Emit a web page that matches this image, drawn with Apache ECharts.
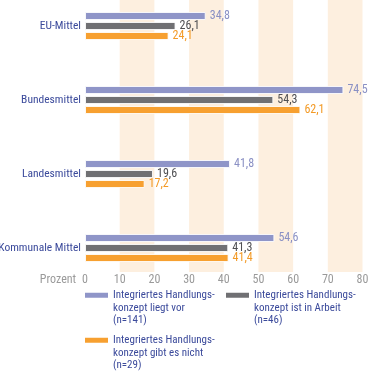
<!DOCTYPE html>
<html><head><meta charset="utf-8">
<script src="https://cdn.jsdelivr.net/npm/echarts@6/dist/echarts.min.js"></script>
<style>html,body{margin:0;padding:0;background:#fff}#c{width:370px;height:372px}</style>
</head><body><div id="c"></div>
<script>
const categories = ['EU-Mittel', 'Bundesmittel', 'Landesmittel', 'Kommunale Mittel'];
const seriesNames = ['Integriertes Handlungs-\nkonzept liegt vor\n(n=141)', 'Integriertes Handlungs-\nkonzept ist in Arbeit\n(n=46)', 'Integriertes Handlungs-\nkonzept gibt es nicht\n(n=29)'];
const liegtVor = [34.8, 74.5, 41.8, 54.6];
const inArbeit = [26.1, 54.3, 19.6, 41.3];
const gibtNicht = [24.1, 62.1, 17.2, 41.4];
const xTicks = [0, 10, 20, 30, 40, 50, 60, 70, 80];

const FONT = '"Liberation Sans Narrow", "Roboto Condensed", "Noto Sans Condensed", "Open Sans Condensed", "Arial Narrow", "Liberation Sans", sans-serif';
const colors = ['#8f95c8', '#707073', '#f7a030'];
const labelColors = ['#8a90c4', '#4f4f52', '#f39a26'];
const textBlue = '#3b4a9b';

const chart = echarts.init(document.getElementById('c'), null, {renderer: 'canvas'});
function mk(i, data) {
  return {
    name: seriesNames[i], type: 'bar', xAxisIndex: 1, yAxisIndex: 1,
    data: data, barWidth: 8, barGap: '25%', clip: false,
    itemStyle: {color: colors[i], borderColor: 'rgba(255,255,255,0.85)', borderWidth: 1},
    label: {show: true, position: 'right', distance: 4, color: labelColors[i],
      fontFamily: FONT, fontSize: 12,
      formatter: p => p.value.toFixed(1).replace('.', ',')}
  };
}
const legendBase = {padding: 0, itemWidth: 23, itemHeight: 5, icon: 'rect', selectedMode: false,
  itemStyle: {borderWidth: 0},
  formatter: n => '\n\n' + n,
  textStyle: {color: textBlue, fontFamily: FONT, fontSize: 11, lineHeight: 12.5}};
chart.setOption({
  animation: false,
  grid: [
    {left: 85, right: 7.5, top: 0, bottom: 100, outerBoundsMode: 'none', containLabel: false},
    {left: 85, right: 7.5, top: -11, height: 296, outerBoundsMode: 'none', containLabel: false}
  ],
  xAxis: [
    {gridIndex: 0, type: 'value', min: xTicks[0], max: xTicks[xTicks.length - 1], interval: 10,
      name: 'Prozent', nameLocation: 'start', nameGap: 6,
      nameTextStyle: {color: '#9a9a9a', fontFamily: FONT, fontSize: 12, verticalAlign: 'top', padding: [2, 0, 0, 0]},
      axisLine: {show: false}, axisTick: {show: false}, splitLine: {show: false},
      splitArea: {show: true, areaStyle: {color: ['rgba(255,255,255,0)', '#fdefdf']}},
      axisLabel: {margin: 2, color: '#9a9a9a', fontFamily: FONT, fontSize: 12}},
    {gridIndex: 1, type: 'value', min: 0, max: 80, interval: 10, show: false}
  ],
  yAxis: [
    {gridIndex: 0, type: 'value', show: false},
    {gridIndex: 1, type: 'category', data: categories, inverse: true,
      axisLine: {show: false}, axisTick: {show: false},
      axisLabel: {margin: 4, color: textBlue, fontFamily: FONT, fontSize: 11.5}}
  ],
  legend: [
    Object.assign({data: [seriesNames[0]], left: 85, top: 264}, legendBase),
    Object.assign({data: [seriesNames[1]], left: 226, top: 264}, legendBase),
    Object.assign({data: [seriesNames[2]], left: 85, top: 309}, legendBase)
  ],
  series: [mk(0, liegtVor), mk(1, inArbeit), mk(2, gibtNicht)]
});
</script></body></html>
